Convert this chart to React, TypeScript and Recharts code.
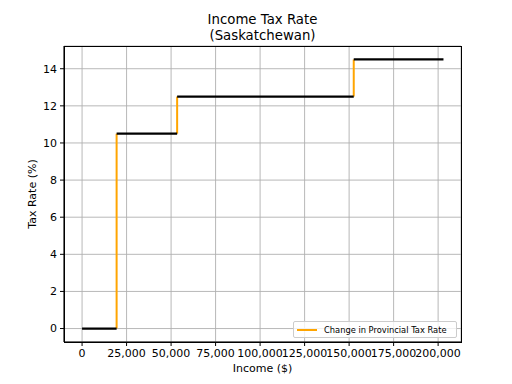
import React from "react";
import { LineChart, Line, XAxis, YAxis, CartesianGrid } from "recharts";

const bracketStarts = [0, 19400, 53400, 152600];
const bracketEnds = [19400, 53400, 152600, 203000];
const rates = [0, 10.5, 12.5, 14.5];
const xTicks = [0, 25000, 50000, 75000, 100000, 125000, 150000, 175000, 200000];
const yTicks = [0, 2, 4, 6, 8, 10, 12, 14];

const horizontal = rates.map((r, i) => [
  { x: bracketStarts[i], y: r },
  { x: bracketEnds[i], y: r },
]);
const vertical = rates.slice(1).map((r, i) => [
  { x: bracketStarts[i + 1], y: rates[i] },
  { x: bracketStarts[i + 1], y: r },
]);

const FONT = "DejaVu Sans";
const fmt = (v: number) => v.toLocaleString("en-US");

export default function App() {
  return (
    <div style={{ position: "absolute", left: 0, top: 0, width: 512, height: 384, background: "#fff", fontFamily: FONT }}>
      <div style={{ position: "absolute", left: 64, width: 397, top: 12, textAlign: "center", fontSize: 13.3, lineHeight: "15.5px", color: "#000" }}>
        Income Tax Rate<br />(Saskatchewan)
      </div>
      <LineChart width={512} height={384} margin={{ top: 46, right: 51, left: 0, bottom: 0 }}>
        <CartesianGrid stroke="#b0b0b0" strokeWidth={0.9} />
        <XAxis
          type="number"
          dataKey="x"
          domain={[-10150, 212850]}
          ticks={xTicks}
          interval={0}
          allowDataOverflow
          tickFormatter={fmt}
          height={42}
          tickSize={4}
          tickMargin={3}
          stroke="#000"
          tick={{ fill: "#000", fontSize: 11, fontFamily: FONT }}
          label={{ value: "Income ($)", position: "insideBottom", offset: 12, fill: "#000", fontSize: 11, fontFamily: FONT }}
        />
        <YAxis
          type="number"
          dataKey="y"
          domain={[-0.725, 15.225]}
          ticks={yTicks}
          interval={0}
          allowDataOverflow
          width={64}
          tickSize={4}
          tickMargin={3}
          stroke="#000"
          tick={{ fill: "#000", fontSize: 11, fontFamily: FONT }}
          label={{ value: "Tax Rate (%)", angle: -90, position: "insideLeft", offset: 32, fill: "#000", fontSize: 11, fontFamily: FONT, style: { textAnchor: "middle" } }}
        />
        {vertical.map((d, i) => (
          <Line key={"v" + i} data={d} dataKey="y" stroke="#FFA500" strokeWidth={2} dot={false} isAnimationActive={false} />
        ))}
        {horizontal.map((d, i) => (
          <Line key={"h" + i} data={d} dataKey="y" stroke="#000" strokeWidth={2.2} dot={false} isAnimationActive={false} />
        ))}
      </LineChart>
      <div style={{ position: "absolute", left: 64, top: 46, width: 396, height: 295, border: "1px solid #000", pointerEvents: "none" }} />
      <div style={{ position: "absolute", left: 293, top: 321, width: 162, height: 15, border: "1px solid #ccc", borderRadius: 2, background: "rgba(255,255,255,0.8)", display: "flex", alignItems: "center", fontSize: 8.3, color: "#000" }}>
        <div style={{ width: 20, height: 2, background: "#FFA500", marginLeft: 3, marginRight: 7 }} />
        <span>Change in Provincial Tax Rate</span>
      </div>
    </div>
  );
}
